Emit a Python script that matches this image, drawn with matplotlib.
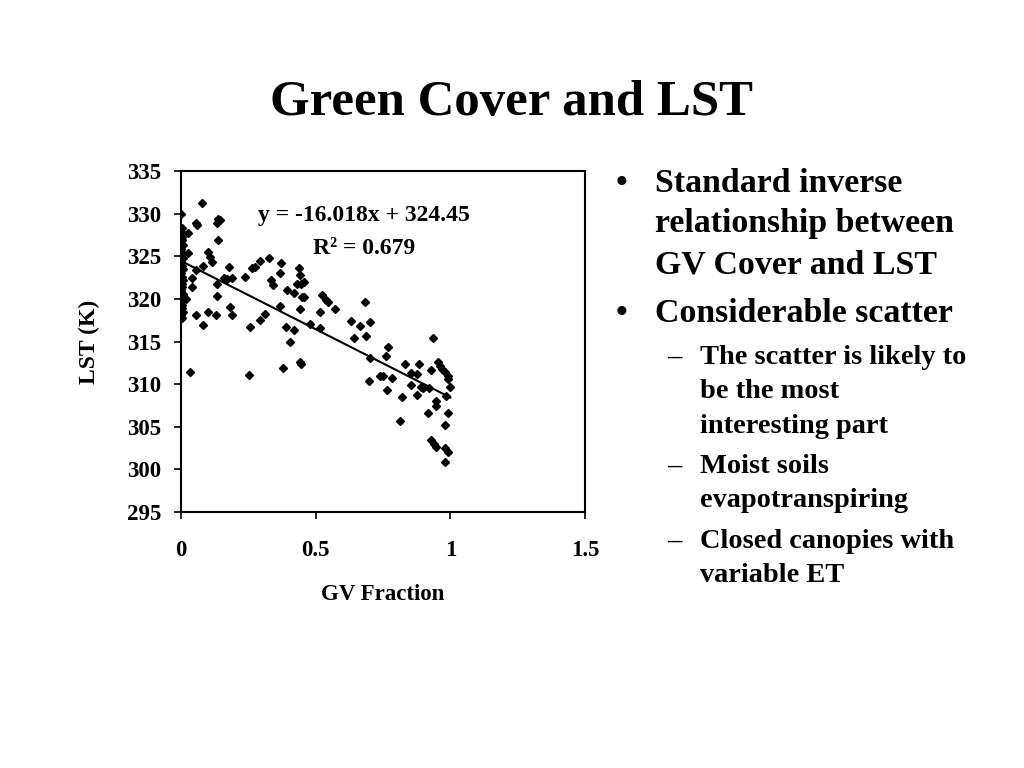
import matplotlib
matplotlib.use("Agg")
import matplotlib.pyplot as plt
import numpy as np

plt.rcParams['font.family'] = ['Liberation Serif', 'DejaVu Serif']
plt.rcParams['font.weight'] = 'bold'

# GV fraction (x) and LST in K (y)
gv_fraction = [
    0.0, 0.003, 0.0, 0.005, 0.002, 0.006, 0.0, 0.004, 0.008, 0.0, 0.003, 0.006,
    0.0, 0.004, 0.008, 0.002, 0.005, 0.0, 0.007, 0.003, 0.0, 0.005, 0.002, 0.006,
    0.0, 0.004,
    0.015, 0.027, 0.027, 0.04, 0.04, 0.033, 0.02,
    0.077, 0.056, 0.06, 0.139, 0.145, 0.132, 0.136, 0.10, 0.107, 0.115, 0.082,
    0.056, 0.178, 0.16, 0.172, 0.19, 0.132, 0.237, 0.265, 0.275, 0.293, 0.326,
    0.373, 0.367, 0.336, 0.341, 0.437, 0.44, 0.43, 0.447, 0.458, 0.393, 0.132,
    0.45, 0.181, 0.189, 0.056, 0.10, 0.13, 0.08, 0.311, 0.293, 0.256, 0.367,
    0.39, 0.42, 0.406, 0.44, 0.447, 0.378, 0.252,
    0.42, 0.456, 0.44, 0.525, 0.54, 0.545, 0.57, 0.515, 0.478, 0.517,
    0.685, 0.632, 0.663, 0.70, 0.641, 0.688, 0.937, 0.77, 0.76, 0.70,
    0.83, 0.885, 0.854, 0.878, 0.928, 0.953, 0.96, 0.97, 0.98, 0.99, 0.99,
    1.0, 0.697, 0.74, 0.75, 0.785, 0.763, 0.854, 0.89, 0.90, 0.92, 0.82,
    0.875, 0.984, 0.947, 0.945, 0.916, 0.99, 0.98, 0.814,
    0.93, 0.94, 0.945, 0.98, 0.99, 0.98,
]
lst = [
    330.0, 328.3, 327.8, 327.3, 326.9, 326.3, 325.8, 325.4, 324.8, 324.3, 323.9, 323.5,
    323.0, 322.6, 322.2, 321.8, 321.4, 321.0, 320.6, 320.2, 319.8, 319.3, 318.9, 318.5,
    318.1, 317.8,
    320.1, 327.7, 325.4, 322.4, 321.4, 311.4, 320.0,
    331.2, 328.9, 328.7, 329.4, 329.2, 328.9, 326.9, 325.5, 324.9, 324.3, 323.9,
    323.4, 323.7, 322.5, 322.3, 322.4, 321.7, 322.6, 323.6, 323.7, 324.4, 324.8,
    324.2, 323.0, 322.2, 321.6, 323.6, 322.8, 321.7, 321.8, 322.0, 321.0, 320.3,
    320.2, 319.0, 318.1, 318.1, 318.5, 318.1, 316.9, 318.2, 317.5, 316.7, 319.2,
    316.7, 316.4, 314.9, 312.6, 312.4, 311.9, 311.1,
    320.7, 320.2, 318.8, 320.5, 319.9, 319.6, 318.8, 318.5, 317.0, 316.6,
    319.6, 317.4, 316.8, 317.3, 315.4, 315.6, 315.4, 314.4, 313.3, 313.1,
    312.4, 312.4, 311.3, 311.2, 311.7, 312.6, 312.1, 311.8, 311.4, 311.0, 310.6,
    309.7, 310.4, 311.0, 310.9, 310.7, 309.3, 309.9, 309.7, 309.5, 309.6, 308.5,
    308.7, 308.6, 308.0, 307.4, 306.6, 306.6, 305.2, 305.7,
    303.4, 303.0, 302.6, 302.5, 302.0, 300.9,
]

slope = -16.018
intercept = 324.45
r_squared = 0.679
fit_x = [0.0, 1.0]

x_ticks = [0, 0.5, 1, 1.5]
x_tick_labels = ['0', '0.5', '1', '1.5']
y_ticks = [295, 300, 305, 310, 315, 320, 325, 330, 335]

fig = plt.figure(figsize=(10.24, 7.68), dpi=100)
fig.patch.set_facecolor('white')

ax = fig.add_axes([181/1024, 1-512/768, 404/1024, 341/768])
ax.plot(gv_fraction, lst, linestyle='none', marker='D', markersize=4,
        color='black', zorder=3)
fx = np.array(fit_x)
ax.plot(fx, slope*fx + intercept, color='black', linewidth=1.5, zorder=2)

ax.set_xlim(0, 1.5)
ax.set_ylim(295, 335)
ax.set_xticks(x_ticks)
ax.set_xticklabels(x_tick_labels)
ax.set_yticks(y_ticks)
for s in ax.spines.values():
    s.set_linewidth(1.5)
ax.tick_params(axis='both', direction='out', length=5, width=1.2,
               labelsize=16.5)
ax.tick_params(axis='x', pad=15)
ax.tick_params(axis='y', pad=9)
for lab in ax.get_xticklabels() + ax.get_yticklabels():
    lab.set_fontweight('bold')

ax.set_xlabel('GV Fraction', fontsize=16.5, fontweight='bold')
ax.set_ylabel('LST (K)', fontsize=17, fontweight='bold')
ax.xaxis.set_label_coords(0.5, -(584-512)/341)
ax.yaxis.set_label_coords((100-181)/404, 0.5)

ax.text((364-181)/404, 1-(215-171)/341,
        f'y = {slope:.3f}x + {intercept:.2f}', transform=ax.transAxes,
        ha='center', va='center', fontsize=17, fontweight='bold')
ax.text((364-181)/404, 1-(248-171)/341,
        f'R\u00b2 = {r_squared:.3f}', transform=ax.transAxes,
        ha='center', va='center', fontsize=17, fontweight='bold')

# Title
fig.text(0.5, 1-115/768, 'Green Cover and LST', ha='center', va='baseline',
         fontsize=36.6, fontweight='bold')

# Bullets
def ftext(px, py, s, size):
    fig.text(px/1024, 1-py/768, s, ha='left', va='baseline',
             fontsize=size, fontweight='bold')

main_lines = [
    (192, 'Standard inverse', True),
    (232, 'relationship between', False),
    (273, 'GV Cover and LST', False),
    (322, 'Considerable scatter', True),
]
for py, s, bullet in main_lines:
    if bullet:
        ftext(616, py, '\u2022', 24)
    ftext(655, py, s, 24.4)

sub_lines = [
    (364, 'The scatter is likely to', True),
    (398, 'be the most', False),
    (433, 'interesting part', False),
    (473, 'Moist soils', True),
    (507, 'evapotranspiring', False),
    (548, 'Closed canopies with', True),
    (582, 'variable ET', False),
]
for py, s, dash in sub_lines:
    if dash:
        ftext(667, py, '\u2013', 20.4)
    ftext(700, py, s, 20.4)

fig.savefig('out.png', dpi=100, facecolor='white')
